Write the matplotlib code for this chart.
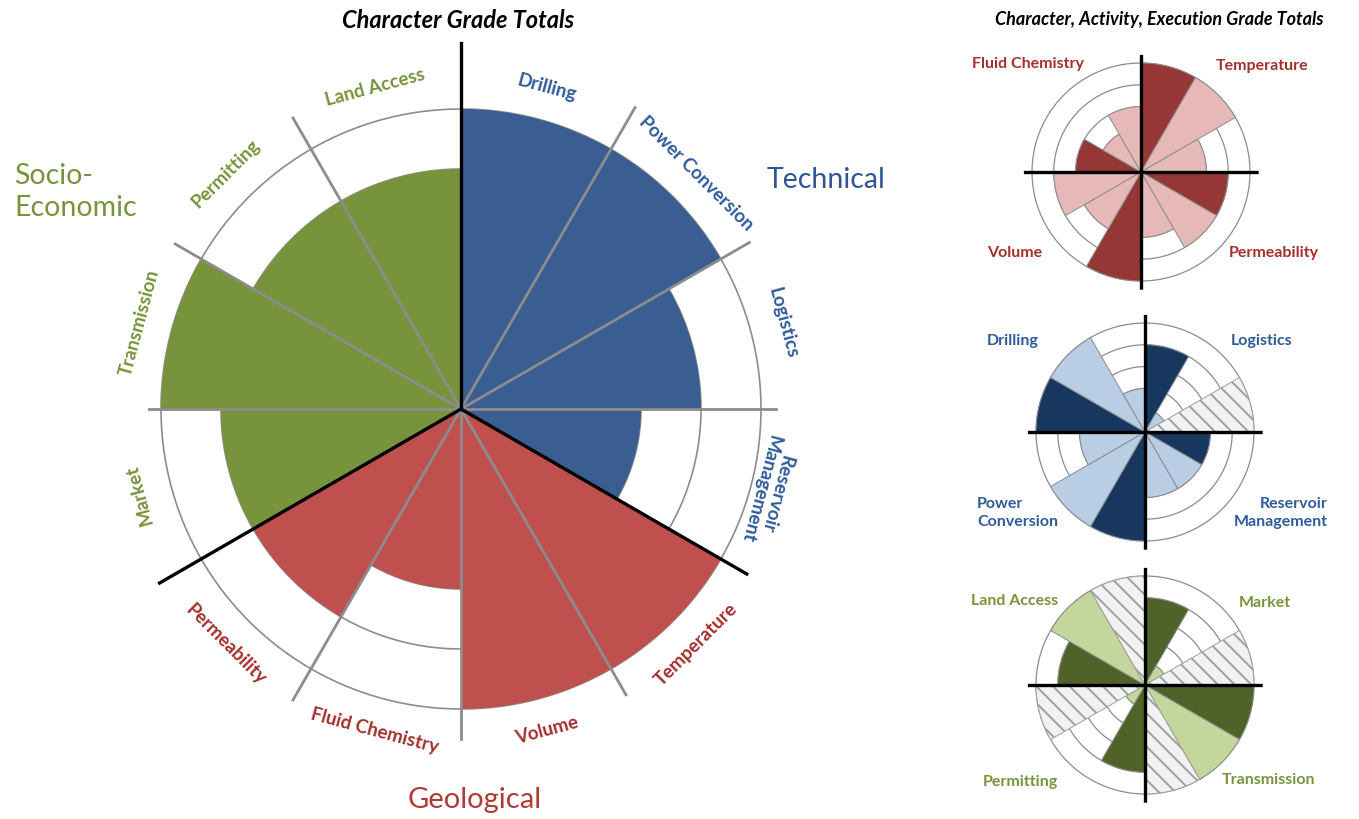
import numpy as np
import matplotlib.pyplot as plt

plt.rcParams['font.family'] = ['Lato', 'DejaVu Sans']
plt.rcParams['hatch.linewidth'] = 1.4

# main chart: character grade per category, clockwise from the top
categories = ['Drilling', 'Power Conversion', 'Logistics', 'Reservoir\nManagement',
              'Temperature', 'Volume', 'Fluid Chemistry', 'Permeability',
              'Market', 'Transmission', 'Permitting', 'Land Access']
groups = ['Technical'] * 4 + ['Geological'] * 4 + ['Socio'] * 4
character = [5, 5, 4, 3, 5, 5, 3, 4, 4, 5, 4, 4]

# small charts: quadrant labels clockwise from top-right, then 3 values per quadrant
# (character, activity, execution); nan = not applicable (hatched)
nan = np.nan
geo_labels = ['Temperature', 'Permeability', 'Volume', 'Fluid Chemistry']
geo_vals = [5, 5, 3, 4, 4, 3, 5, 3, 4, 3, 2, 3]
tech_labels = ['Logistics', 'Reservoir\nManagement', 'Power\nConversion', 'Drilling']
tech_vals = [4, 1, nan, 3, 3, 3, 5, 5, 3, 5, 5, 2]
socio_labels = ['Market', 'Transmission', 'Permitting', 'Land Access']
socio_vals = [4, 1, nan, 5, 5, nan, 4, 1, nan, 4, 5, nan]

bar_col = {'Technical': '#3A5E92', 'Geological': '#C0504D', 'Socio': '#77933C'}
txt_col = {'Technical': '#2F5B9A', 'Geological': '#A3302D', 'Socio': '#77933C'}

W, H = 1359, 819
fig = plt.figure(figsize=(W / 100, H / 100), dpi=100)
fig.patch.set_facecolor('white')


def polar_at(cx, cy, rpx):
    return fig.add_axes([(cx - rpx) / W, (H - cy - rpx) / H, 2 * rpx / W, 2 * rpx / H],
                        projection='polar')


def ftext(x, y, s, **kw):
    fig.text(x / W, 1 - y / H, s, **kw)


full = np.linspace(0, 2 * np.pi, 400)
width = np.deg2rad(30)
theta = np.deg2rad(75 - 30 * np.arange(12))

# ---------------- main chart
RM = 6.2
ax = polar_at(461, 409, 300 * RM / 5)
ax.set_ylim(0, RM)
ax.set_axis_off()
for r in range(1, 6):
    ax.plot(full, [r] * len(full), color='#8C8C8C', lw=1.2, zorder=1)
ax.bar(theta, character, width=width, color=[bar_col[g] for g in groups], lw=0, zorder=2)

gray_len = {60: 5.8, 30: 5.55, 0: 5.25, -60: 5.5, -90: 5.5, -120: 5.6,
            180: 5.2, 150: 5.5, 120: 5.6}
for a, L in gray_len.items():
    t = np.deg2rad(a)
    ax.plot([t, t], [0, L], color='#8C8C8C', lw=2, zorder=3)
for a, L in [(90, 6.1), (-30, 5.5), (-150, 5.8)]:
    t = np.deg2rad(a)
    ax.plot([t, t], [0, L], color='black', lw=2.4, zorder=4)

for t, name, g in zip(theta, categories, groups):
    deg = np.rad2deg(t)
    rot = deg + 90 if g == 'Geological' else deg - 90
    r = 5.3 if '\n' in name else 5.55
    ax.text(t, r, name, rotation=rot, rotation_mode='anchor', ha='center', va='center',
            color=txt_col[g], fontsize=13.5, fontweight='bold', linespacing=1.0)

ftext(458, 20, 'Character Grade Totals', ha='center', va='center', fontsize=17,
      fontweight='bold', fontstyle='italic')
ftext(826, 180, 'Technical', ha='center', va='center', fontsize=20.5, color='#2F5597')
ftext(14, 192, 'Socio-\nEconomic', ha='left', va='center', fontsize=20.5, color='#77933C',
      linespacing=1.25)
ftext(475, 800, 'Geological', ha='center', va='center', fontsize=21, color='#B03A36')

# ---------------- small charts
RS = 5.4
small = [
    (1141, 172, geo_vals, geo_labels, '#953735', '#E6B9B8', '#A3302D',
     [(1262, 66, 'center'), (1274, 253, 'center'), (1015, 253, 'center'), (1028, 64, 'center')]),
    (1145, 432, tech_vals, tech_labels, '#17375E', '#B9CDE5', '#2E5B9A',
     [(1262, 341, 'center'), (1328, 513, 'right'), (977, 513, 'left'), (1013, 341, 'center')]),
    (1145, 685, socio_vals, socio_labels, '#4F6228', '#C3D69B', '#77933C',
     [(1265, 603, 'center'), (1268, 780, 'center'), (1020, 782, 'center'), (1015, 601, 'center')]),
]
for cx, cy, vals, labels, dark, light, tcol, lpos in small:
    sa = polar_at(cx, cy, 109 * RS / 5)
    sa.set_ylim(0, RS)
    sa.set_axis_off()
    for r in range(1, 6):
        sa.plot(full, [r] * len(full), color='#8C8C8C', lw=0.9, zorder=1)
    vals = np.array(vals, dtype=float)
    cols = [dark if i % 3 == 0 else light for i in range(12)]
    ok = ~np.isnan(vals)
    sa.bar(theta[ok], vals[ok], width=width, color=np.array(cols)[ok],
           edgecolor='#8C8C8C', lw=0.7, zorder=2)
    if (~ok).any():
        sa.bar(theta[~ok], [5] * (~ok).sum(), width=width, color='#F2F2F2',
               edgecolor='#A0A0A0', hatch='\\\\', lw=0.7, zorder=2)
    for a in [0, 90, 180, 270]:
        t = np.deg2rad(a)
        sa.plot([t, t], [0, 5.3], color='black', lw=2.4, zorder=4)
    for (x, y, ha), lab in zip(lpos, labels):
        ftext(x, y, lab, ha=ha, va='center', fontsize=11.5, fontweight='bold',
              color=tcol, multialignment=ha if ha != 'center' else 'center', linespacing=1.3)

ftext(1159, 20, 'Character, Activity, Execution Grade Totals', ha='center', va='center',
      fontsize=13, fontweight='bold', fontstyle='italic')

fig.savefig('out.png', dpi=100, facecolor='white')
